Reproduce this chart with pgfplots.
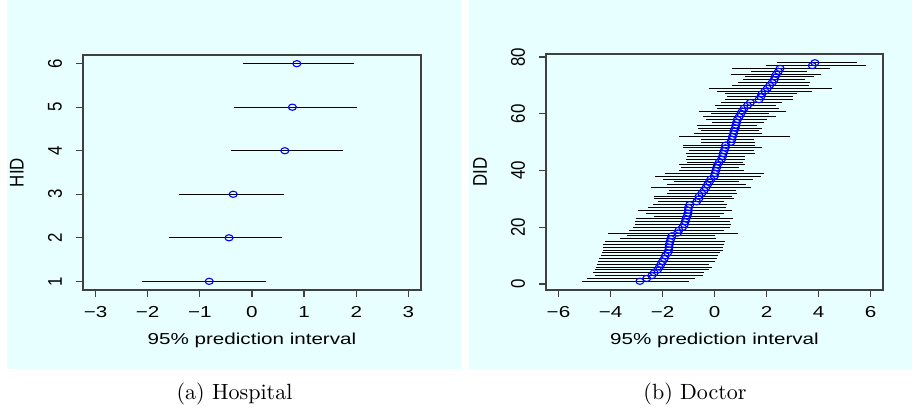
\documentclass[border=0pt]{standalone}
\usepackage{pgfplots}
\pgfplotsset{compat=1.18}
\usepackage{pgfplotstable}
\usepackage{fontspec}
\newfontfamily\hfont[FakeStretch=1.3]{Liberation Sans}
\newfontfamily\vfont[FakeStretch=0.85]{Liberation Sans}
\newcommand\hsz{\hfont\fontsize{7.2}{8.6}\selectfont}
\newcommand\vsz{\vfont\fontsize{9}{10.8}\selectfont}
\definecolor{bgcyan}{HTML}{E8FFFF}

\pgfplotstableread{
id lo m hi
1 -2.10 -0.82 0.26
2 -1.60 -0.44 0.58
3 -1.40 -0.36 0.62
4 -0.41 0.63 1.75
5 -0.345 0.775 2.02
6 -0.17 0.86 1.96
}\hosp

\pgfplotstableread{
id lo m hi
1 -5.10 -2.87 -0.97
2 -4.89 -2.61 -0.75
3 -4.61 -2.41 -0.46
4 -4.68 -2.32 -0.40
5 -4.59 -2.19 -0.23
6 -4.55 -2.12 -0.08
7 -4.52 -2.06 -0.20
8 -4.48 -2.00 0.03
9 -4.45 -1.93 0.10
10 -4.36 -1.89 0.15
11 -4.32 -1.80 0.22
12 -4.27 -1.76 0.31
13 -4.30 -1.75 0.33
14 -4.27 -1.74 0.37
15 -4.23 -1.71 0.41
16 -3.63 -1.68 0.05
17 -3.36 -1.64 0.03
18 -4.08 -1.42 0.90
19 -3.30 -1.37 0.35
20 -3.12 -1.23 0.58
21 -3.07 -1.16 0.63
22 -3.07 -1.13 0.60
23 -3.02 -1.10 0.72
24 -2.32 -1.05 0.20
25 -2.64 -1.02 0.37
26 -2.96 -1.01 0.69
27 -2.57 -1.00 0.43
28 -2.38 -0.95 0.47
29 -2.19 -0.69 0.35
30 -2.34 -0.61 0.75
31 -2.32 -0.59 0.69
32 -1.84 -0.49 0.88
33 -1.77 -0.40 0.82
34 -2.44 -0.33 1.42
35 -1.84 -0.27 1.20
36 -1.55 -0.20 0.95
37 -2.00 -0.14 1.48
38 -2.28 -0.01 1.80
39 -1.91 0.02 1.91
40 -1.38 0.05 1.13
41 -1.29 0.08 0.96
42 -1.36 0.11 1.19
43 -1.07 0.18 1.08
44 -1.10 0.27 1.16
45 -1.04 0.31 1.19
46 -1.10 0.33 1.57
47 -0.97 0.37 1.51
48 -1.23 0.41 1.83
49 -1.20 0.43 1.54
50 -0.52 0.63 1.54
51 -0.52 0.67 1.51
52 -1.38 0.69 2.90
53 -0.78 0.73 1.83
54 -0.52 0.75 1.70
55 -0.65 0.80 1.82
56 -0.68 0.82 1.63
57 -0.10 0.85 1.90
58 -0.33 0.88 2.00
59 -0.46 0.95 2.35
60 -0.14 1.01 2.10
61 -0.61 1.07 2.74
62 0.11 1.14 2.48
63 0.03 1.27 2.38
64 0.24 1.38 2.61
65 0.40 1.71 3.02
66 0.47 1.78 3.00
67 0.41 1.82 3.16
68 0.11 1.94 3.74
69 -0.23 2.03 4.50
70 0.69 2.12 3.63
71 0.92 2.22 3.66
72 1.10 2.29 3.48
73 1.18 2.33 3.82
74 0.63 2.38 4.08
75 1.39 2.46 3.57
76 0.67 2.52 4.43
77 1.97 3.76 5.83
78 2.42 3.86 5.49
}\doctor

\pgfplotsset{
  rstyle/.style={
    scale only axis,
    anchor=south west,
    axis line style={black!75, line width=0.6pt},
    tick pos=left,
    tick align=outside,
    major tick length=3.04pt,
    tick style={black!75, line width=0.6pt},
    xticklabel style={font=\hsz, anchor=center},
    xticklabel shift=7pt,
    yticklabel style={font=\vsz, rotate=90, anchor=center},
    yticklabel shift=9.7pt,
    every axis x label/.style={at={(axis description cs:0.5,-0.2127)}, anchor=center, font=\hsz},
    every axis y label/.style={at={(axis description cs:-0.1956,0.5)}, rotate=90, anchor=center, font=\vsz},
    xlabel={95\% prediction interval},
  },
  ivl/.style={draw=none, mark=none, forget plot,
    error bars/.cd, x dir=both, x explicit, error mark=none,
    error bar style={draw=black, solid, line width=0.45pt}},
  pts/.style={only marks, mark=o, draw=blue, mark size=1.4pt,
    mark options={xscale=1.3, line width=0.5pt, draw=blue}},
}

\begin{document}
\begin{tikzpicture}
\useasboundingbox (0,0) rectangle (414pt,185.67pt);
\fill[bgcyan] (3.18pt,18.16pt) rectangle (209.7pt,185.67pt);
\fill[bgcyan] (212.9pt,18.16pt) rectangle (414pt,185.67pt);

\begin{axis}[rstyle, at={(37.68pt,54.02pt)}, width=153.4pt, height=106.7pt,
  xmin=-3.24, xmax=3.24, ymin=0.8, ymax=6.2,
  xtick={-3,-2,-1,0,1,2,3}, xticklabels={−3,−2,−1,0,1,2,3},
  ytick={1,2,3,4,5,6}, yticklabels={1,2,3,4,5,6},
  ylabel={HID}]
\addplot[ivl] table[x=m, y=id, x error plus expr=\thisrow{hi}-\thisrow{m}, x error minus expr=\thisrow{m}-\thisrow{lo}] {\hosp};
\addplot[pts] table[x=m, y=id] {\hosp};
\end{axis}

\begin{axis}[rstyle, at={(247.86pt,54.02pt)}, width=152.98pt, height=107.13pt,
  xmin=-6.48, xmax=6.48, ymin=-2.08, ymax=81.08,
  xtick={-6,-4,-2,0,2,4,6}, xticklabels={−6,−4,−2,0,2,4,6},
  ytick={0,20,40,60,80}, yticklabels={0,20,40,60,80},
  ylabel={DID}]
\addplot[ivl] table[x=m, y=id, x error plus expr=\thisrow{hi}-\thisrow{m}, x error minus expr=\thisrow{m}-\thisrow{lo}] {\doctor};
\addplot[pts] table[x=m, y=id] {\doctor};
\end{axis}

\node[anchor=base] at (106.45pt,4.5pt) {(a) Hospital};
\node[anchor=base] at (315.5pt,4.5pt) {(b) Doctor};
\end{tikzpicture}
\end{document}
